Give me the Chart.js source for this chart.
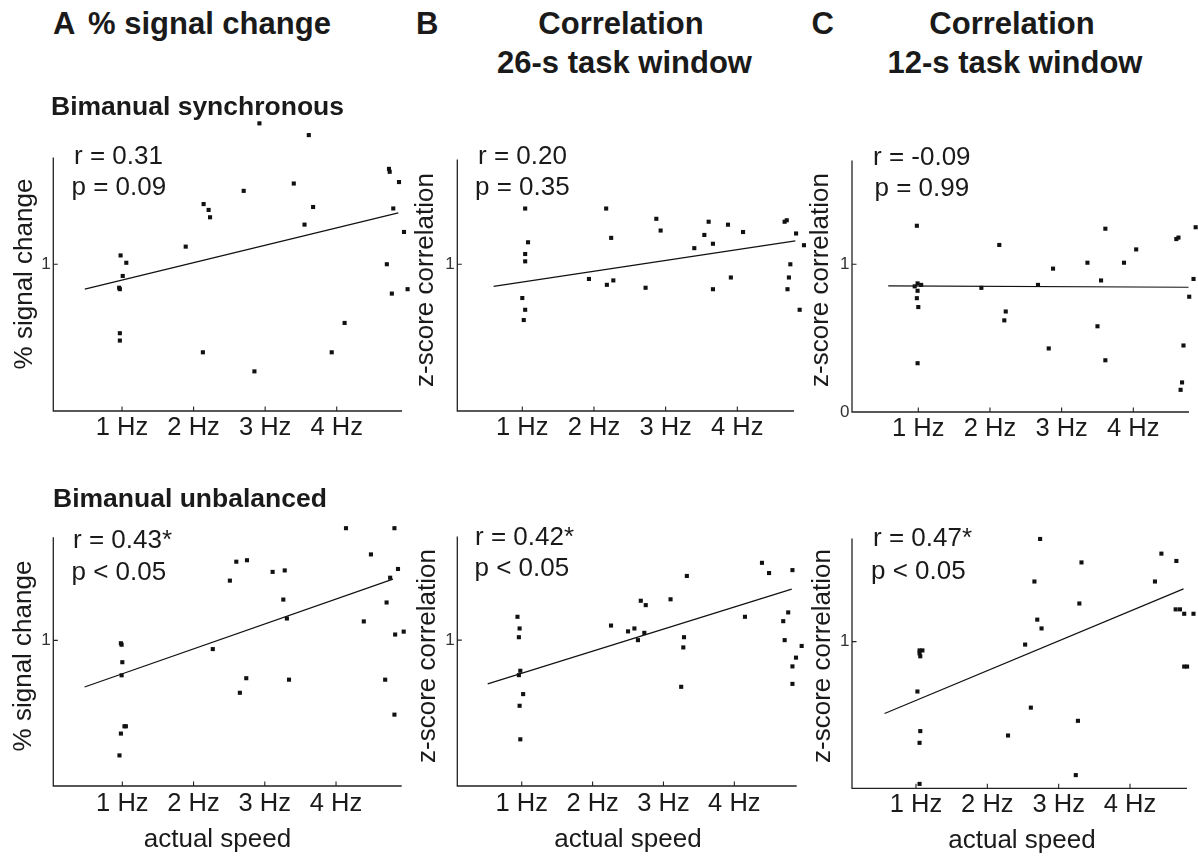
<!DOCTYPE html>
<html><head><meta charset="utf-8">
<script src="https://cdn.jsdelivr.net/npm/chart.js@4.4.1/dist/chart.umd.min.js"></script>
<style>
html,body{margin:0;padding:0;background:#fff;overflow:hidden}
#fig{position:relative;width:1198px;height:856px;overflow:hidden;background:#fff;font-family:'Liberation Sans',Arial,Helvetica,sans-serif;color:#1a1a1a}
#fig canvas{position:absolute}
.t{position:absolute;white-space:nowrap}
</style></head><body><div id="fig"></div>
<script>
// ---------- data ----------
const hzTicks = [1, 2, 3, 4];
const panelTitles = ['% signal change', 'Correlation', 'Correlation'];
const panelSub = ['', '26-s task window', '12-s task window'];
const panelLetters = ['A', 'B', 'C'];
const rowTitles = ['Bimanual synchronous', 'Bimanual unbalanced'];
const yTitles = ['% signal change', 'z-score correlation', 'z-score correlation'];
const xTitle = 'actual speed';
const statR = ['r = 0.31', 'r = 0.20', 'r = -0.09', 'r = 0.43*', 'r = 0.42*', 'r = 0.47*'];
const statP = ['p = 0.09', 'p = 0.35', 'p = 0.99', 'p < 0.05', 'p < 0.05', 'p < 0.05'];

// A, synchronous
const aSyncX = [1.06,0.98,1.01,0.96,0.97,0.97,0.97,1.89,2.14,2.21,2.23,2.13,2.70,2.85,2.92,3.61,3.40,3.67,3.55,3.93,4.11,4.73,4.74,4.87,4.79,4.94,4.70,4.77,4.99];
const aSyncY = [1.01,1.06,0.92,0.84,0.83,0.53,0.48,1.12,1.41,1.37,1.32,0.40,1.50,0.27,1.96,1.88,1.55,1.39,1.27,0.40,0.60,1.65,1.63,1.56,1.38,1.22,1.00,0.80,0.83];
const aSyncFitX = [0.48, 4.86], aSyncFitY = [0.83, 1.35];
// B, synchronous
const bSyncX = [1.04,1.08,1.04,1.04,1.00,1.04,1.02,1.93,2.17,2.24,2.18,2.27,2.72,2.87,2.93,3.40,3.54,3.60,3.66,3.66,3.87,3.91,4.08,4.66,4.69,4.82,4.74,4.72,4.70,4.87,4.93];
const bSyncY = [1.38,1.15,1.07,1.02,0.77,0.69,0.62,0.90,1.38,1.18,0.86,0.89,0.84,1.31,1.23,1.11,1.20,1.29,1.14,0.83,1.27,0.91,1.22,1.29,1.30,1.21,1.00,0.91,0.83,0.69,1.13];
const bSyncFitX = [0.60, 4.81], bSyncFitY = [0.85, 1.16];
// C, synchronous
const cSyncX = [0.98,0.95,0.99,1.04,0.99,0.98,1.00,0.99,1.88,2.13,2.22,2.20,2.67,2.88,2.82,3.36,3.55,3.61,3.50,3.61,3.87,4.04,4.60,4.63,4.87,4.84,4.78,4.70,4.68,4.66];
const cSyncY = [1.26,0.85,0.87,0.86,0.82,0.77,0.71,0.33,0.84,1.13,0.68,0.62,0.86,0.97,0.43,1.01,0.89,1.24,0.58,0.35,1.01,1.10,1.17,1.18,1.25,0.90,0.78,0.45,0.20,0.15];
const cSyncFitX = [0.58, 4.77], cSyncFitY = [0.853, 0.844];
// A, unbalanced
const aUnbX = [0.98,0.99,1.00,0.99,1.03,1.05,0.98,0.96,2.27,2.51,2.60,2.75,2.65,2.74,3.11,3.28,3.26,3.31,3.34,4.14,4.49,4.39,4.82,4.87,4.76,4.71,4.83,4.95,4.69,4.82];
const aUnbY = [0.98,0.97,0.85,0.76,0.41,0.41,0.36,0.21,0.94,1.41,1.54,1.55,0.64,0.74,1.47,1.48,1.28,1.15,0.73,1.77,1.59,1.13,1.77,1.49,1.43,1.26,1.04,1.06,0.73,0.49];
const aUnbFitX = [0.47, 4.80], aUnbFitY = [0.68, 1.42];
// B, unbalanced
const bUnbX = [0.94,0.97,0.96,0.98,0.96,1.02,0.97,0.98,2.26,2.50,2.59,2.64,2.73,2.68,2.75,3.10,3.33,3.29,3.28,3.25,4.15,4.39,4.49,4.82,4.76,4.69,4.71,4.87,4.82,4.82,4.95];
const bUnbY = [1.16,1.08,1.02,0.79,0.76,0.63,0.55,0.32,1.10,1.06,1.08,1.00,1.05,1.27,1.24,1.28,1.44,1.02,0.95,0.68,1.16,1.53,1.46,1.48,1.19,1.13,1.00,0.88,0.82,0.70,0.96];
const bUnbFitX = [0.52, 4.81], bUnbFitY = [0.70, 1.35];
// C, unbalanced
const cUnbX = [1.05,1.09,1.05,1.06,1.02,1.06,1.05,1.05,2.29,2.53,2.61,2.66,2.70,2.76,2.74,3.32,3.29,3.27,3.24,4.35,4.44,4.65,4.64,4.70,4.76,4.89,4.76,4.80];
const cUnbY = [0.94,0.94,0.92,0.90,0.66,0.39,0.31,0.03,0.36,0.98,0.55,1.41,1.15,1.09,1.70,1.54,1.26,0.46,0.09,1.41,1.60,1.55,1.22,1.22,1.19,1.19,0.83,0.83];
const cUnbFitX = [0.56, 4.75], cUnbFitY = [0.51, 1.36];

// ---------- layout ----------
const fig = document.getElementById('fig');
const FONT = "'Liberation Sans', Arial, Helvetica, sans-serif";
Chart.defaults.font.family = FONT;
const INK = '#1a1a1a';

function addText(str, x, baseline, size, opts) {
  opts = opts || {};
  const d = document.createElement('div');
  d.className = 't';
  d.textContent = str;
  d.style.fontSize = size + 'px';
  d.style.lineHeight = size + 'px';
  d.style.top = (baseline - 0.8465 * size) + 'px';
  if (opts.bold) d.style.fontWeight = 'bold';
  if (opts.center) { d.style.left = (x - 300) + 'px'; d.style.width = '600px'; d.style.textAlign = 'center'; }
  else d.style.left = x + 'px';
  fig.appendChild(d);
}

const panels = [
  {xs:aSyncX, ys:aSyncY, fx:aSyncFitX, fy:aSyncFitY, col:0, yTicks:[1],   L:53.3,  T:150,   R:402,   B:411,   xmin:0.040, xFrameMax:4.912, yFrameMax:1.728, yTitleX:32,  yTitleY:274, xTickBase:437},
  {xs:bSyncX, ys:bSyncY, fx:bSyncFitX, fy:bSyncFitY, col:1, yTicks:[1],   L:457.3, T:152,   R:794,   B:411,   xmin:0.093, xFrameMax:4.791, yFrameMax:1.715, yTitleX:433, yTitleY:280, xTickBase:437},
  {xs:cSyncX, ys:cSyncY, fx:cSyncFitX, fy:cSyncFitY, col:2, yTicks:[0,1], L:852,   T:153.3, R:1189,  B:412,   xmin:0.075, xFrameMax:4.777, yFrameMax:1.702, yTitleX:828, yTitleY:280, xTickBase:437.5},
  {xs:aUnbX,  ys:aUnbY,  fx:aUnbFitX,  fy:aUnbFitY,  col:0, yTicks:[1],   L:53.3,  T:530,   R:401.7, B:786,   xmin:0.031, xFrameMax:4.922, yFrameMax:1.707, yTitleX:31,  yTitleY:656, xTickBase:813},
  {xs:bUnbX,  ys:bUnbY,  fx:bUnbFitX,  fy:bUnbFitY,  col:1, yTicks:[1],   L:457.3, T:529.3, R:796.7, B:786,   xmin:0.091, xFrameMax:4.880, yFrameMax:1.711, yTitleX:435, yTitleY:656, xTickBase:813},
  {xs:cUnbX,  ys:cUnbY,  fx:cUnbFitX,  fy:cUnbFitY,  col:2, yTicks:[1],   L:852,   T:531,   R:1187,  B:788.3, xmin:0.103, xFrameMax:4.799, yFrameMax:1.704, yTitleX:830, yTitleY:656, xTickBase:814}
];

const framePlugin = {
  id: 'frame',
  afterDraw(chart, args, o) {
    const {ctx, scales: {x, y}} = chart;
    const x0 = x.getPixelForValue(o.xmin), x1 = x.getPixelForValue(o.xFrameMax);
    const y0 = y.getPixelForValue(0), y1 = y.getPixelForValue(o.yFrameMax);
    ctx.save();
    ctx.strokeStyle = '#222';
    ctx.lineWidth = 1.3;
    ctx.beginPath();
    ctx.moveTo(x0, y1); ctx.lineTo(x0, y0); ctx.lineTo(x1, y0);
    ctx.stroke();
    ctx.lineWidth = 1.1;
    ctx.beginPath();
    x.ticks.forEach(t => { const px = x.getPixelForValue(t.value); ctx.moveTo(px, y0); ctx.lineTo(px, y0 - 4.5); });
    y.ticks.forEach(t => { const py = y.getPixelForValue(t.value); if (py < y0 - 1) { ctx.moveTo(x0, py); ctx.lineTo(x0 + 4.5, py); } });
    ctx.stroke();
    // rotated y-axis title
    ctx.fillStyle = INK;
    ctx.font = '26px ' + FONT;
    ctx.textAlign = 'center';
    ctx.textBaseline = 'alphabetic';
    ctx.translate(o.titleX, o.titleY);
    ctx.rotate(-Math.PI / 2);
    ctx.fillText(o.title, 0, 0);
    ctx.restore();
  }
};

const WY = 50, HX = 40, EXT_TOP = 46, EXT_RIGHT = 32;
panels.forEach((p, i) => {
  const areaTop = p.T - EXT_TOP, areaRight = p.R + EXT_RIGHT;
  const pxx = (p.R - p.L) / (p.xFrameMax - p.xmin);
  const pxy = (p.B - p.T) / p.yFrameMax;
  const xScaleMax = p.xFrameMax + EXT_RIGHT / pxx;
  const yScaleMax = p.yFrameMax + EXT_TOP / pxy;
  const cx = Math.floor(p.L - WY), cy = Math.floor(areaTop - 4);
  const cw = Math.ceil(areaRight + 4 - cx), ch = Math.ceil(p.B + HX - cy);
  const cv = document.createElement('canvas');
  cv.width = cw; cv.height = ch;
  cv.style.left = cx + 'px'; cv.style.top = cy + 'px';
  cv.style.width = cw + 'px'; cv.style.height = ch + 'px';
  fig.appendChild(cv);
  const pad = {left: p.L - WY - cx, top: areaTop - cy, right: cx + cw - areaRight, bottom: cy + ch - p.B - HX};
  const tickFont = 25.5, tickLH = 1.2;
  const xPad = (p.xTickBase - 0.3465 * tickFont) - p.B - tickFont * tickLH / 2;
  new Chart(cv, {
    type: 'scatter',
    data: { datasets: [
      {data: p.xs.map((v, k) => ({x: v, y: p.ys[k]})), pointStyle: 'rect', pointRadius: 2.9, backgroundColor: '#111', borderWidth: 0, clip: false},
      {type: 'line', data: p.fx.map((v, k) => ({x: v, y: p.fy[k]})), borderColor: '#111', borderWidth: 1.2, pointRadius: 0, fill: false, tension: 0, clip: false}
    ]},
    options: {
      responsive: false, animation: false, devicePixelRatio: 1, events: [],
      layout: {padding: pad},
      plugins: {
        legend: {display: false}, tooltip: {enabled: false},
        frame: {xmin: p.xmin, xFrameMax: p.xFrameMax, yFrameMax: p.yFrameMax, title: yTitles[p.col], titleX: p.yTitleX - cx, titleY: p.yTitleY - cy}
      },
      scales: {
        x: {type: 'linear', position: 'bottom', min: p.xmin, max: xScaleMax,
          afterBuildTicks: s => { s.ticks = hzTicks.map(v => ({value: v})); },
          afterFit: s => { s.height = HX; },
          grid: {display: false, drawTicks: false},
          border: {display: false},
          ticks: {autoSkip: false, maxRotation: 0, minRotation: 0, padding: xPad, color: INK, font: {size: tickFont, lineHeight: tickLH}, callback: v => v + ' Hz'}
        },
        y: {type: 'linear', position: 'left', min: 0, max: yScaleMax,
          afterBuildTicks: s => { s.ticks = p.yTicks.map(v => ({value: v})); },
          afterFit: s => { s.width = WY; },
          grid: {display: false, drawTicks: false},
          border: {display: false},
          ticks: {padding: 2.5, color: '#333', font: {size: 17}, callback: v => String(v)}
        }
      }
    },
    plugins: [framePlugin]
  });
});

// ---------- text ----------
addText(panelLetters[0], 53, 34, 31, {bold: true});
addText(panelTitles[0], 88, 34, 31, {bold: true});
addText(panelLetters[1], 416, 34, 31, {bold: true});
addText(panelTitles[1], 621, 34, 31, {bold: true, center: true});
addText(panelSub[1], 624.5, 73.5, 31, {bold: true, center: true});
addText(panelLetters[2], 811.5, 34, 31, {bold: true});
addText(panelTitles[2], 1012, 34, 31, {bold: true, center: true});
addText(panelSub[2], 1015, 73.5, 31, {bold: true, center: true});
addText(rowTitles[0], 51, 115, 26.5, {bold: true});
addText(rowTitles[1], 53, 507, 26.5, {bold: true});

const statPos = [
  [74, 164, 71.5, 195], [478, 164, 475, 195], [873, 165, 874.5, 196.5],
  [73, 548, 71.5, 580], [475, 545, 474.5, 576.5], [873, 546.5, 871, 579]
];
statPos.forEach((s, i) => { addText(statR[i], s[0], s[1], 26); addText(statP[i], s[2], s[3], 26); });

addText(xTitle, 217.5, 847, 26, {center: true});
addText(xTitle, 628, 847, 26, {center: true});
addText(xTitle, 1022, 848, 26, {center: true});
</script></body></html>
